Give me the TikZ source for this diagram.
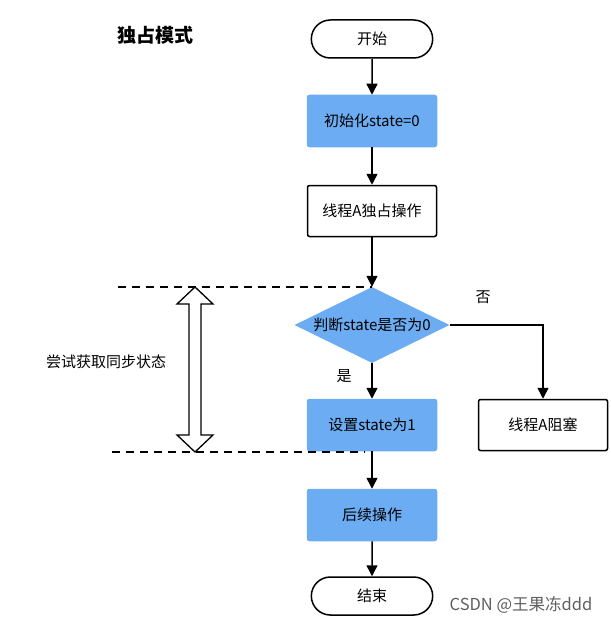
\documentclass[tikz,border=0pt]{standalone}
\usepackage{fontspec}
\setmainfont{Noto Sans CJK SC}
\usetikzlibrary{shapes.geometric, shapes.misc, arrows.meta, positioning}
\definecolor{procblue}{RGB}{108,172,242}
\definecolor{markgray}{RGB}{95,95,95}

\begin{document}
\begin{tikzpicture}[x=1pt, y=-1pt,
  term/.style={rounded rectangle, draw=black, line width=1.5pt, fill=white,
               minimum width=128pt, minimum height=38pt, font=\fontsize{15}{17}\selectfont},
  proc/.style={rectangle, draw=black, line width=1.5pt, fill=#1, rounded corners=2pt,
               minimum width=129pt, minimum height=51pt, font=\fontsize{15}{17}\selectfont},
  proc/.default=white,
  blue/.style={proc, draw=procblue, fill=procblue},
  cond/.style={diamond, aspect=2.04, fill=procblue, inner sep=0pt, minimum width=155pt,
               minimum height=76pt, font=\fontsize{15}{17}\selectfont},
  arr/.style={-{Triangle[length=11pt, width=11pt]}, line width=1.5pt},
  guide/.style={line width=1.3pt, dash pattern=on 8pt off 6pt},
  lbl/.style={font=\fontsize{15}{17}\selectfont},
]
  \useasboundingbox (0,0) rectangle (610,623);

  % Title
  \node[font=\fontsize{19}{21}\selectfont\bfseries] (title) at (155,35) {独占模式};

  % Main flow
  \node[term] (start) at (372,39) {开始};
  \node[blue] (init) at (372,121) {初始化state=0};
  \node[proc] (own) at (372,211) {线程A独占操作};
  \node[cond] (judge) at (372,325) {判断state是否为0};
  \node[blue] (setone) at (372,425) {设置state为1};
  \node[blue] (next) at (372,515) {后续操作};
  \node[term] (stop) at (372,596) {结束};

  % Blocked branch
  \node[proc] (block) at (543,425) {线程A阻塞};
  \node[lbl] (no) at (483,297) {否};
  \node[lbl] (yes) at (344,376) {是};

  % Connections
  \draw[arr] (start) -- (init);
  \draw[arr] (init) -- (own);
  \draw[arr] (own) -- (judge);
  \draw[arr] (judge) -- (setone);
  \draw[arr] (judge.east) -| (block.north);
  \draw[arr] (setone) -- (next);
  \draw[arr] (next) -- (stop);

  % Sync range
  \coordinate (topl) at (118,287);
  \coordinate (botl) at (112,452);
  \draw[guide] (topl) -- (topl -| judge.north);
  \draw[guide] (botl) -- (365,452);
  \draw[line width=1.3pt, fill=white] (195,287) -- ++(18,17) -- ++(-12,0) -- (201,435)
    -- ++(12,0) -- (195,452) -- ++(-18,-17) -- ++(12,0) -- (189,304) -- ++(-12,0) -- cycle;
  \node[lbl] (sync) at (106,362) {尝试获取同步状态};

  % Watermark
  \node[font=\fontsize{16.5}{18}\selectfont, text=markgray] (mark) at (521,605) {CSDN @王果冻ddd};
\end{tikzpicture}
\end{document}
